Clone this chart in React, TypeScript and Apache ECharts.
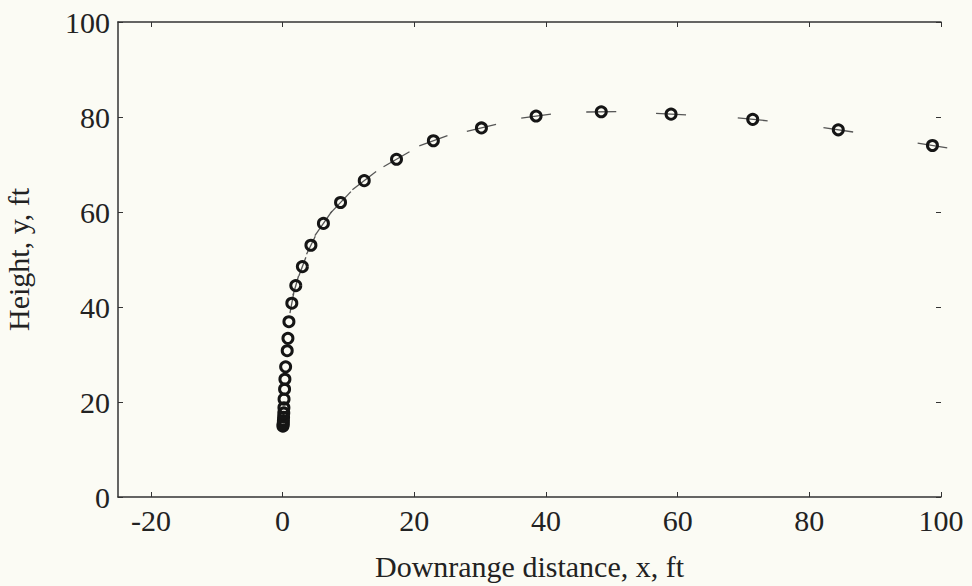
import React, { useEffect, useRef } from "react";
import * as echarts from "echarts";

const xValues = [0.05, 0.08, 0.1, 0.12, 0.15, 0.18, 0.2, 0.22, 0.3, 0.35, 0.46, 0.7, 0.81, 0.96, 1.4, 2.0, 3.0, 4.3, 6.2, 8.8, 12.4, 17.3, 22.9, 30.2, 38.5, 48.4, 59.0, 71.4, 84.4, 98.7];
const yValues = [14.9, 15.2, 15.6, 16.1, 16.8, 17.7, 18.8, 20.6, 22.7, 24.8, 27.4, 30.8, 33.4, 36.9, 40.8, 44.5, 48.5, 53.0, 57.6, 62.0, 66.6, 71.1, 75.0, 77.7, 80.2, 81.1, 80.6, 79.5, 77.3, 74.0];
const xTicks = [-20, 0, 20, 40, 60, 80, 100];
const yTicks = [0, 20, 40, 60, 80, 100];

const FONT = "'Liberation Serif', 'DejaVu Serif', serif";
const INK = "#222";

export default function App() {
  const ref = useRef<HTMLDivElement>(null);
  useEffect(() => {
    if (!ref.current) return;
    const chart = echarts.init(ref.current, null, { renderer: "svg" });
    const points = xValues.map((x, i) => [x, yValues[i]]);
    const labelStyle = { fontFamily: FONT, fontSize: 30, color: INK };
    const axisLine = { show: true, onZero: false, lineStyle: { color: "#333", width: 1.5 } };
    const option: any = {
      animation: false,
      backgroundColor: "#fbfbf4",
      grid: { left: 118, right: 31, top: 22, bottom: 89, containLabel: false, outerBoundsMode: "none" },
      xAxis: [
        {
          type: "value", min: -25, max: 100, position: "bottom",
          axisLine,
          axisTick: { show: true, inside: true, length: 5, customValues: xTicks, lineStyle: { color: "#333" } },
          axisLabel: { ...labelStyle, margin: 8, customValues: xTicks },
          splitLine: { show: false },
          name: "Downrange distance, x, ft", nameLocation: "middle", nameGap: 54,
          nameTextStyle: { fontFamily: FONT, fontSize: 30, color: INK },
        },
        {
          type: "value", min: -25, max: 100, position: "top",
          axisLine,
          axisTick: { show: true, inside: true, length: 5, customValues: xTicks, lineStyle: { color: "#333" } },
          axisLabel: { show: false },
          splitLine: { show: false },
        },
      ],
      yAxis: [
        {
          type: "value", min: 0, max: 100, interval: 20, position: "left",
          axisLine,
          axisTick: { show: true, inside: true, length: 5, customValues: yTicks, lineStyle: { color: "#333" } },
          axisLabel: { ...labelStyle, margin: 8, customValues: yTicks },
          splitLine: { show: false },
          name: "Height, y, ft", nameLocation: "middle", nameGap: 85, nameRotate: 90,
          nameTextStyle: { fontFamily: FONT, fontSize: 30, color: INK },
        },
        {
          type: "value", min: 0, max: 100, interval: 20, position: "right",
          axisLine: { show: false, onZero: false },
          axisTick: { show: true, inside: true, length: 5, customValues: yTicks, lineStyle: { color: "#333" } },
          axisLabel: { show: false },
          splitLine: { show: false },
        },
      ],
      series: [
        {
          type: "custom",
          xAxisIndex: 0, yAxisIndex: 0,
          clip: false,
          data: points,
          renderItem: (params: any, api: any) => {
            const i = params.dataIndex;
            if (i < 14) return { type: "group", children: [] };
            const c = api.coord([xValues[i], yValues[i]]);
            const pi = Math.max(0, i - 1);
            const ni = Math.min(xValues.length - 1, i + 1);
            const p = api.coord([xValues[pi], yValues[pi]]);
            const n = api.coord([xValues[ni], yValues[ni]]);
            let dx = n[0] - p[0];
            let dy = n[1] - p[1];
            const len = Math.hypot(dx, dy) || 1;
            dx /= len; dy /= len;
            const L = i < 18 ? 10 : 15;
            return {
              type: "line",
              shape: { x1: c[0] - dx * L, y1: c[1] - dy * L, x2: c[0] + dx * L, y2: c[1] + dy * L },
              style: { stroke: "#555", lineWidth: 1.3 },
            };
          },
          z: 2,
        },
        {
          type: "scatter",
          xAxisIndex: 0, yAxisIndex: 0,
          data: points,
          symbol: "circle",
          symbolSize: 10,
          itemStyle: { color: "rgba(0,0,0,0)", borderColor: "#151515", borderWidth: 3, opacity: 1 },
          z: 3,
        },
      ],
    };
    chart.setOption(option);
    return () => chart.dispose();
  }, []);
  return (
    <div
      ref={ref}
      style={{ position: "fixed", left: 0, top: 0, width: 972, height: 586 }}
    />
  );
}
